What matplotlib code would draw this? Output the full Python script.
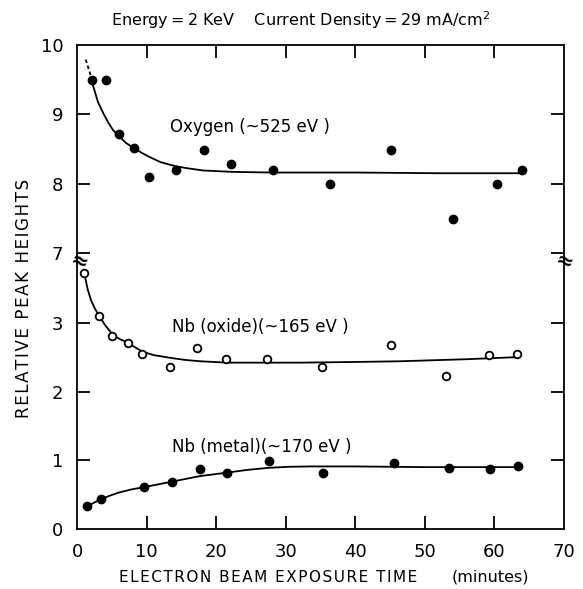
import numpy as np
import matplotlib.pyplot as plt

# measured points (minutes, relative peak height)
oxy_t = [2.1, 4.2, 6.1, 8.2, 10.3, 14.2, 18.3, 22.2, 28.1, 36.3, 45.1, 54.1, 60.3, 64.0]
oxy_h = [9.49, 9.50, 8.72, 8.51, 8.10, 8.19, 8.49, 8.28, 8.19, 7.99, 8.48, 7.49, 7.99, 8.19]

oxide_t = [1.05, 3.2, 5.1, 7.3, 9.4, 13.3, 17.3, 21.4, 27.3, 35.2, 45.2, 53.1, 59.2, 63.3]
oxide_h = [3.72, 3.10, 2.81, 2.70, 2.54, 2.35, 2.63, 2.48, 2.48, 2.35, 2.68, 2.23, 2.53, 2.54]

metal_t = [1.5, 3.4, 9.7, 13.7, 17.7, 21.6, 27.6, 35.4, 45.5, 53.5, 59.4, 63.4]
metal_h = [0.33, 0.43, 0.61, 0.69, 0.87, 0.81, 0.99, 0.82, 0.96, 0.89, 0.87, 0.91]

# hand-drawn fit curves
oxy_fit_t = [2.0, 2.35, 3.0, 3.8, 4.5, 5.2, 6.1, 7.0, 8.2, 9.2, 10.3, 12.0, 14.2, 16.0, 18.1, 22.2, 28.0, 40.0, 52.0, 64.0]
oxy_fit_h = [9.53, 9.40, 9.18, 9.01, 8.88, 8.77, 8.68, 8.59, 8.51, 8.45, 8.39, 8.31, 8.25, 8.22, 8.19, 8.17, 8.16, 8.16, 8.15, 8.15]
oxy_dash_t = [1.25, 2.0]
oxy_dash_h = [9.79, 9.55]

oxide_fit_t = [1.05, 1.5, 2.0, 2.6, 3.2, 4.0, 5.2, 6.2, 7.3, 8.4, 9.4, 11.0, 13.4, 15.5, 17.7, 21.6, 27.2, 32.0, 40.0, 46.4, 56.0, 63.2]
oxide_fit_h = [3.72, 3.50, 3.33, 3.20, 3.10, 2.97, 2.82, 2.76, 2.71, 2.64, 2.58, 2.53, 2.49, 2.46, 2.44, 2.42, 2.42, 2.42, 2.43, 2.44, 2.47, 2.50]

metal_fit_t = [1.5, 2.4, 3.4, 4.6, 6.0, 7.8, 9.7, 13.7, 17.7, 21.6, 24.5, 27.6, 30.5, 33.5, 40.0, 50.0, 63.4]
metal_fit_h = [0.33, 0.38, 0.43, 0.48, 0.53, 0.575, 0.61, 0.69, 0.77, 0.82, 0.86, 0.89, 0.905, 0.91, 0.91, 0.90, 0.90]

x_ticks = [0, 10, 20, 30, 40, 50, 60, 70]
lw = 1.3
hs = '\u200a'

fig = plt.figure(figsize=(5.83, 5.89), dpi=100)
left, width = 0.1321, 0.8353
ax_top = fig.add_axes([left, 0.5535, width, 0.9236 - 0.5535])
ax_bot = fig.add_axes([left, 0.1019, width, 0.5535 - 0.1019])

ax_top.set_ylim(6.855, 10)
ax_bot.set_ylim(0, 3.87)
for ax in (ax_top, ax_bot):
    ax.set_xlim(0, 70)
    for s in ax.spines.values():
        s.set_linewidth(lw)
ax_top.spines['bottom'].set_visible(False)
ax_bot.spines['top'].set_visible(False)

# top panel: oxygen
ax_top.plot(oxy_fit_t, oxy_fit_h, color='black', lw=1.3)
ax_top.plot(oxy_dash_t, oxy_dash_h, color='black', lw=1.3, ls=(0, (2, 1.5)))
ax_top.plot(oxy_t, oxy_h, 'o', color='black', ms=6)
ax_top.text(13.4, 8.82, 'Oxygen (~525 eV )', fontsize=12, va='center')

ax_top.set_xticks([10, 20, 30, 40, 50, 60])
ax_top.tick_params(axis='x', bottom=False, top=True, labelbottom=False,
                   direction='in', length=9.5, width=lw)
ax_top.set_yticks([7, 8, 9, 10])
ax_top.set_yticklabels(['7', '8', '9', '10'])
ax_top.tick_params(axis='y', left=True, right=True, direction='in', length=9.5,
                   width=lw, labelsize=13, pad=10)

# bottom panel: Nb oxide and metal
ax_bot.plot(oxide_fit_t, oxide_fit_h, color='black', lw=1.3)
ax_bot.plot(oxide_t, oxide_h, 'o', mfc='white', mec='black', mew=1.3, ms=5.5)
ax_bot.plot(metal_fit_t, metal_fit_h, color='black', lw=1.3)
ax_bot.plot(metal_t, metal_h, 'o', color='black', ms=6)
ax_bot.text(13.6, 2.94, 'Nb (oxide)(~165 eV )', fontsize=12, va='center')
ax_bot.text(13.6, 1.19, 'Nb (metal)(~170 eV )', fontsize=12, va='center')

ax_bot.set_xticks(x_ticks)
ax_bot.set_xticklabels([str(v) for v in x_ticks])
ax_bot.tick_params(axis='x', direction='in', length=9.5, width=lw, labelsize=13, pad=10)
ax_bot.set_yticks([0, 1, 2, 3])
ax_bot.tick_params(axis='y', left=True, right=True, direction='in', length=9.5,
                   width=lw, labelsize=13, pad=10)
# hide the corner ticks at 0 and 70 / 0
for t in (ax_bot.xaxis.get_major_ticks()[0], ax_bot.xaxis.get_major_ticks()[-1]):
    t.tick1line.set_visible(False)
    t.tick2line.set_visible(False)
for t in (ax_bot.yaxis.get_major_ticks()[0], ax_top.yaxis.get_major_ticks()[-1]):
    t.tick1line.set_visible(False)
    t.tick2line.set_visible(False)

# break marks
for xx in (0.004, 1):
    ax_bot.text(xx, 3.87, '≈', transform=ax_bot.get_yaxis_transform(),
                ha='center', va='center', fontsize=15, fontweight='bold', rotation=-20)

fig.text(268 / 583, 1 - 577 / 589, hs.join('ELECTRON BEAM EXPOSURE TIME'),
         fontsize=11, ha='center', va='center')
fig.text(490 / 583, 1 - 577 / 589, '(minutes)', fontsize=11.5, ha='center', va='center')
fig.text(0.042, 0.494, hs.join('RELATIVE PEAK HEIGHTS'), rotation=90, fontsize=12,
         ha='center', va='center')
fig.text(0.515, 0.966, 'Energy\u2009=\u20092 KeV    Current Density\u2009=\u200929 mA/cm$^{2}$',
         fontsize=11.5, ha='center', va='center')

fig.savefig('out.png', dpi=100)
